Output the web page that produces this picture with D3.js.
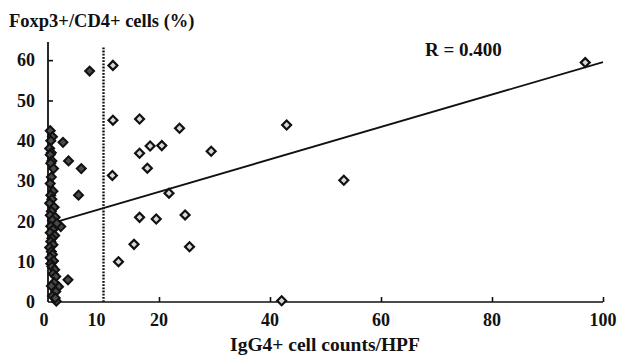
<!DOCTYPE html>
<html>
<head>
<meta charset="utf-8">
<script src="https://cdn.jsdelivr.net/npm/d3@7"></script>
<style>
  html, body { margin: 0; padding: 0; background: #fff; }
  svg { display: block; }
  text { font-family: "Liberation Serif", "Times New Roman", serif; font-weight: bold; fill: #111; }
</style>
</head>
<body>
<svg id="chart" width="618" height="361"></svg>
<script>
// ---- data ----
const xTickValues = [0, 10, 20, 40, 60, 80, 100];
const xTickMarks = [20, 40, 60, 80, 100];
const yTickValues = [0, 10, 20, 30, 40, 50, 60];
const cutoff = 10;
const rLabel = "R = 0.400";
const yTitle = "Foxp3+/CD4+ cells (%)";
const xTitle = "IgG4+ cell counts/HPF";

// regression line endpoints [x, y]
const fitX = [1.5, 100];
const fitY = [19.9, 59.5];

// IgG4 > 10 group (light diamonds)
const highX = [11.7, 11.7, 16.5, 23.7, 43.0, 16.5, 18.4, 20.5, 29.4, 17.9, 11.6, 53.3, 21.8, 16.5, 19.5, 24.7, 15.5, 25.5, 12.7, 96.8, 42.1];
const highY = [58.7, 45.1, 45.4, 43.1, 43.9, 36.9, 38.7, 38.8, 37.4, 33.2, 31.4, 30.2, 27.0, 21.0, 20.6, 21.6, 14.3, 13.7, 10.0, 59.4, 0.3];

// IgG4 <= 10 group (dark diamonds)
const lowX = [7.5, 2.7, 3.7, 6.0, 5.5, 3.6, 2.3, 1.9, 1.4, 1.5,
  0.4, 0.8, 0.5, 0.3, 0.6, 0.4, 0.7, 0.5, 1.0, 0.6,
  0.4, 0.9, 0.5, 0.7, 0.3, 1.1, 0.6, 0.4, 1.3, 0.8,
  1.6, 0.5, 0.9, 0.4, 1.2, 0.7, 0.5, 0.9, 0.3, 0.6,
  0.8, 0.4, 1.0, 0.5, 0.7, 1.2, 0.9, 1.4, 1.1, 0.6, 0.8, 1.3];
const lowY = [57.3, 39.6, 35.0, 33.1, 26.5, 5.5, 18.7, 3.8, 2.6, 0.2,
  42.5, 41.0, 40.0, 38.1, 37.0, 36.5, 35.0, 34.4, 33.1, 31.0,
  29.4, 27.5, 26.5, 25.5, 24.5, 23.5, 22.5, 21.5, 21.0, 20.3,
  19.5, 18.8, 18.0, 17.2, 16.5, 15.8, 15.0, 14.2, 13.5, 12.5,
  11.8, 11.0, 10.2, 9.5, 8.8, 8.0, 7.0, 6.3, 4.8, 4.0, 1.5, 1.0];

// ---- chart ----
const svg = d3.select("#chart");
svg.append("rect").attr("width", 618).attr("height", 361).attr("fill", "#fff");

const x = d3.scaleLinear().domain([0, 100]).range([48, 603]);
const y = d3.scaleLinear().domain([0, 64.5]).range([302, 42]);

// x axis
const xAxis = d3.axisTop(x).tickValues(xTickMarks).tickSize(5).tickFormat("");
const gx = svg.append("g").attr("transform", `translate(0,${y(0)})`).call(xAxis);
gx.select(".domain").attr("d", `M${x(0)},0H${x(100)}`).attr("stroke", "#111").attr("stroke-width", 1.6);
gx.selectAll(".tick line").attr("stroke", "#111").attr("stroke-width", 1.6);

svg.append("g").selectAll("text").data(xTickValues).join("text")
  .attr("x", d => x(d) - (d === 0 ? 4 : d === 10 ? 7 : 0))
  .attr("y", 326)
  .attr("text-anchor", "middle")
  .attr("font-size", 18)
  .text(d => d);

// y axis
const yAxis = d3.axisRight(y).tickValues(yTickValues.filter(v => v > 0)).tickSize(5).tickFormat("");
const gy = svg.append("g").attr("transform", `translate(${x(0)},0)`).call(yAxis);
gy.select(".domain").attr("d", `M0,${y(0)}V${y(64.5)}`).attr("stroke", "#111").attr("stroke-width", 1.8);
gy.selectAll(".tick line").attr("stroke", "#111").attr("stroke-width", 1.6);

svg.append("g").selectAll("text").data(yTickValues).join("text")
  .attr("x", 35)
  .attr("y", d => y(d))
  .attr("dy", "0.35em")
  .attr("text-anchor", "end")
  .attr("font-size", 18)
  .text(d => d);

// cutoff dotted line
svg.append("line")
  .attr("x1", x(cutoff)).attr("x2", x(cutoff))
  .attr("y1", y(0)).attr("y2", y(63.5))
  .attr("stroke", "#111").attr("stroke-width", 2.4)
  .attr("stroke-dasharray", "1.8,1.4");

// regression line
const fit = fitX.map((v, i) => [v, fitY[i]]);
svg.append("path")
  .attr("d", d3.line().x(d => x(d[0])).y(d => y(d[1]))(fit))
  .attr("fill", "none").attr("stroke", "#111").attr("stroke-width", 1.8);

const sym = d3.symbol().type(d3.symbolSquare).size(40);

// dark points
const low = lowX.map((v, i) => [v, lowY[i]]);
svg.append("g").selectAll("path").data(low).join("path")
  .attr("d", sym)
  .attr("transform", d => `translate(${x(d[0])},${y(d[1])}) rotate(45)`)
  .attr("fill", "#4a4a4a").attr("stroke", "#111").attr("stroke-width", 2);

// light points
const high = highX.map((v, i) => [v, highY[i]]);
svg.append("g").selectAll("path").data(high).join("path")
  .attr("d", sym)
  .attr("transform", d => `translate(${x(d[0])},${y(d[1])}) rotate(45)`)
  .attr("fill", "#d8d8d8").attr("stroke", "#111").attr("stroke-width", 2.2);

// texts
svg.append("text").attr("x", 9).attr("y", 27).attr("font-size", 18.5).text(yTitle);
svg.append("text").attr("x", 425).attr("y", 56).attr("font-size", 19).text(rLabel);
svg.append("text").attr("x", 325).attr("y", 351).attr("text-anchor", "middle").attr("font-size", 19.5).text(xTitle);
</script>
</body>
</html>
